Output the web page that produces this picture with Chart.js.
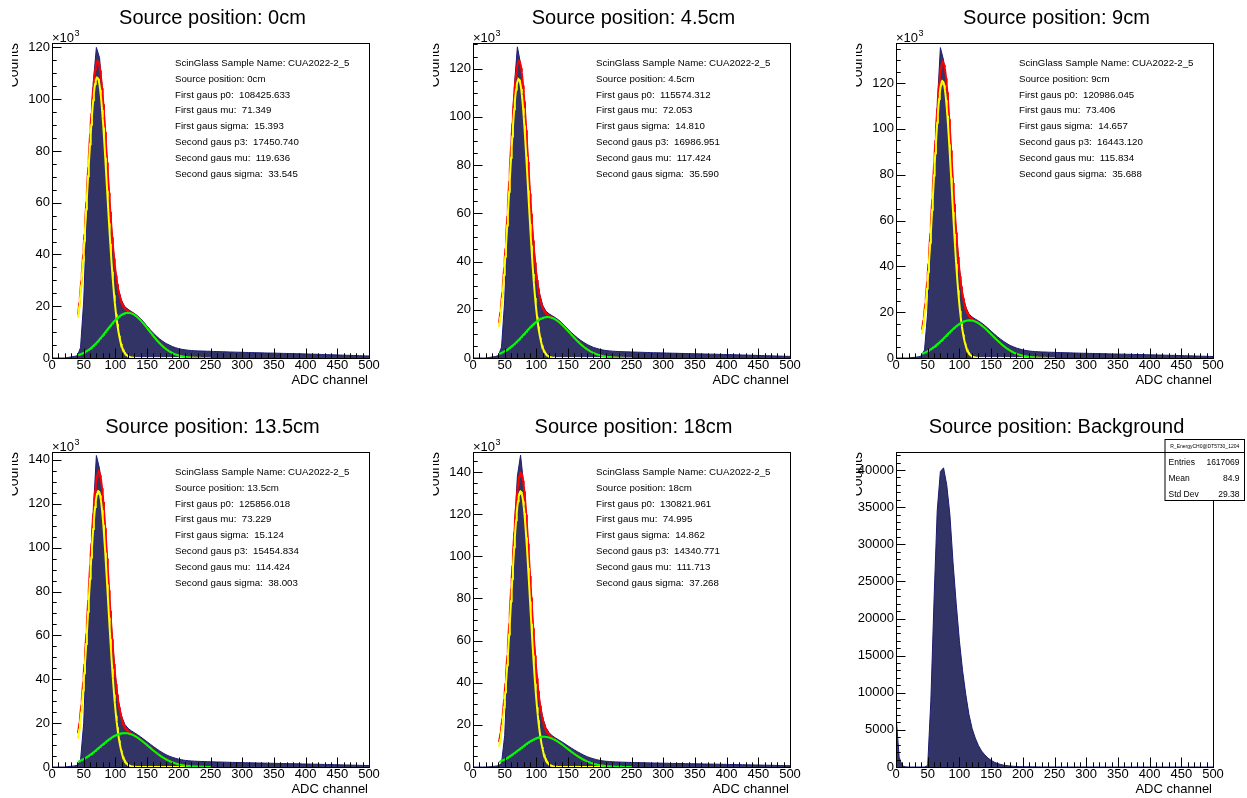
<!DOCTYPE html>
<html>
<head>
<meta charset="utf-8">
<script src="https://cdn.jsdelivr.net/npm/chart.js@4.4.1/dist/chart.umd.min.js"></script>
<style>
  html, body { margin: 0; padding: 0; background: #fff; overflow: hidden; }
  body { width: 1247px; height: 798px; position: relative; }
  canvas { position: absolute; }
</style>
</head>
<body>
<canvas id="pad0" width="391" height="390" style="left:12px;top:0px"></canvas>
<canvas id="pad1" width="391" height="390" style="left:433px;top:0px"></canvas>
<canvas id="pad2" width="391" height="390" style="left:856px;top:0px"></canvas>
<canvas id="pad3" width="391" height="390" style="left:12px;top:409px"></canvas>
<canvas id="pad4" width="391" height="390" style="left:433px;top:409px"></canvas>
<canvas id="pad5" width="391" height="390" style="left:856px;top:409px"></canvas>
<script>
// ADC channel of each histogram point (5 channel bins, 0..500)
const binStep = 5;
const channels = Array.from({ length: 101 }, (_, i) => i * binStep);

const sampleName = 'CUA2022-2_5';
const positions = ['0cm', '4.5cm', '9cm', '13.5cm', '18cm'];

// counts per bin, in units of 10^3
const counts0cm = [
  0, 0, 0, 0, 0, 0.2, 0.4, 0.6, 0.9, 4,
  22, 55, 84, 106, 120, 116, 102, 84, 64, 47,
  34, 26.5, 22, 19.8, 18.8, 18, 17.2, 16.3, 15.2, 13.8,
  12.3, 10.9, 9.6, 8.4, 7.3, 6.4, 5.6, 5, 4.4, 4,
  3.6, 3.35, 3.15, 3, 2.9, 2.8, 2.75, 2.7, 2.66, 2.62,
  2.58, 2.52, 2.49, 2.44, 2.41, 2.37, 2.33, 2.3, 2.26, 2.22,
  2.2, 2.15, 2.13, 2.09, 2.06, 2.02, 2, 1.97, 1.93, 1.91,
  1.88, 1.85, 1.82, 1.78, 1.76, 1.72, 1.69, 1.66, 1.63, 1.6,
  1.57, 1.53, 1.49, 1.46, 1.41, 1.38, 1.33, 1.3, 1.25, 1.22,
  1.18, 1.13, 1.1, 1.05, 1.01, 0.97, 0.93, 0.89, 0.85, 0.82,
  0.78
];
const counts4p5cm = [
  0, 0, 0, 0, 0, 0.2, 0.4, 0.6, 1, 4.5,
  24, 58, 88, 112, 129, 122, 110, 90, 68, 49.5,
  35.5, 26.8, 21.8, 19.4, 18.3, 17.5, 16.7, 15.8, 14.6, 13.3,
  11.9, 10.6, 9.4, 8.3, 7.3, 6.4, 5.6, 5, 4.4, 4,
  3.6, 3.3, 3.1, 2.95, 2.84, 2.75, 2.68, 2.63, 2.58, 2.54,
  2.5, 2.45, 2.41, 2.37, 2.33, 2.28, 2.25, 2.2, 2.17, 2.13,
  2.1, 2.06, 2.03, 1.99, 1.96, 1.92, 1.89, 1.86, 1.83, 1.8,
  1.76, 1.73, 1.7, 1.67, 1.63, 1.6, 1.57, 1.54, 1.5, 1.47,
  1.44, 1.4, 1.37, 1.33, 1.29, 1.26, 1.22, 1.18, 1.14, 1.1,
  1.06, 1.02, 0.98, 0.94, 0.9, 0.86, 0.82, 0.78, 0.74, 0.7,
  0.66
];
const counts9cm = [
  0, 0, 0, 0, 0, 0.2, 0.3, 0.5, 0.9, 3.5,
  20, 54, 84, 110, 135.5, 130, 118, 99, 76, 55,
  39, 28.3, 22.3, 19.3, 17.9, 17, 16.2, 15.3, 14.2, 13,
  11.7, 10.5, 9.3, 8.2, 7.2, 6.3, 5.5, 4.9, 4.35, 3.95,
  3.55, 3.25, 3.05, 2.9, 2.8, 2.72, 2.65, 2.6, 2.55, 2.5,
  2.45, 2.4, 2.36, 2.32, 2.28, 2.24, 2.2, 2.16, 2.12, 2.08,
  2.05, 2.01, 1.98, 1.94, 1.91, 1.88, 1.85, 1.82, 1.78, 1.75,
  1.72, 1.69, 1.66, 1.63, 1.59, 1.56, 1.53, 1.5, 1.47, 1.44,
  1.4, 1.37, 1.34, 1.3, 1.27, 1.23, 1.2, 1.16, 1.12, 1.08,
  1.04, 1, 0.97, 0.93, 0.89, 0.85, 0.81, 0.77, 0.73, 0.69,
  0.65
];
const counts13p5cm = [
  0, 0, 0, 0, 0, 0.2, 0.3, 0.5, 0.8, 3,
  20, 58, 90, 116, 142, 136, 124, 104, 81, 59,
  41.5, 29.8, 23, 19.4, 17.6, 16.5, 15.6, 14.7, 13.7, 12.6,
  11.5, 10.4, 9.3, 8.3, 7.3, 6.4, 5.6, 4.95, 4.4, 3.95,
  3.55, 3.25, 3.02, 2.87, 2.75, 2.66, 2.59, 2.53, 2.48, 2.43,
  2.38, 2.34, 2.3, 2.26, 2.22, 2.18, 2.14, 2.1, 2.07, 2.03,
  2, 1.96, 1.93, 1.9, 1.86, 1.83, 1.8, 1.77, 1.74, 1.71,
  1.68, 1.65, 1.62, 1.59, 1.56, 1.53, 1.5, 1.47, 1.44, 1.41,
  1.38, 1.34, 1.31, 1.28, 1.24, 1.21, 1.17, 1.14, 1.1, 1.06,
  1.02, 0.99, 0.95, 0.91, 0.87, 0.83, 0.8, 0.76, 0.72, 0.68,
  0.64
];
const counts18cm = [
  0, 0, 0, 0, 0, 0.1, 0.2, 0.4, 0.6, 1.8,
  15, 50, 82, 112, 138, 148, 134, 115, 90, 66,
  46, 31.8, 23.3, 18.8, 16.3, 14.8, 13.8, 12.9, 12, 11,
  10, 9, 8.1, 7.2, 6.4, 5.6, 4.9, 4.35, 3.9, 3.5,
  3.15, 2.9, 2.72, 2.6, 2.5, 2.42, 2.36, 2.3, 2.25, 2.2,
  2.16, 2.12, 2.08, 2.04, 2.01, 1.97, 1.94, 1.9, 1.87, 1.84,
  1.81, 1.78, 1.75, 1.72, 1.69, 1.66, 1.63, 1.6, 1.57, 1.55,
  1.52, 1.49, 1.47, 1.44, 1.41, 1.38, 1.36, 1.33, 1.3, 1.27,
  1.24, 1.21, 1.18, 1.15, 1.12, 1.09, 1.06, 1.03, 1, 0.97,
  0.93, 0.9, 0.87, 0.84, 0.8, 0.77, 0.74, 0.7, 0.67, 0.64,
  0.6
];
// background run, plain counts
const countsBackground = [
  7000, 1300, 150, 20, 0, 0, 0, 0, 0, 0,
  200, 9000, 22500, 34500, 39800, 40300, 38000, 34000, 27500, 22000,
  17000, 13000, 9800, 7100, 5200, 3900, 2900, 2150, 1650, 1200,
  900, 650, 480, 350, 250, 180, 130, 95, 70, 50,
  38, 30, 24, 20, 17, 15, 13, 12, 11, 10,
  9, 9, 8, 8, 7, 7, 7, 6, 6, 6,
  5, 5, 5, 5, 4, 4, 4, 4, 4, 3,
  3, 3, 3, 3, 3, 2, 2, 2, 2, 2,
  2, 2, 2, 2, 1, 1, 1, 1, 1, 1,
  1, 1, 1, 1, 1, 1, 1, 0, 0, 0,
  0
];

// double gaussian fit results
const fitP0 = [108425.633, 115574.312, 120986.045, 125856.018, 130821.961];
const fitMu1 = [71.349, 72.053, 73.406, 73.229, 74.995];
const fitSigma1 = [15.393, 14.810, 14.657, 15.124, 14.862];
const fitP3 = [17450.740, 16986.951, 16443.120, 15454.834, 14340.771];
const fitMu2 = [119.636, 117.424, 115.834, 114.424, 111.713];
const fitSigma2 = [33.545, 35.590, 35.688, 38.003, 37.268];
const fitLo = 41, fitHi = 250;

const yMaxK = [121.7, 130.6, 137.5, 143.6, 149.5];
const yMaxBackground = 42430;

const bgStats = { name: 'R_EnergyCH0@DT5730_1204', entries: 1617069, mean: 84.9, stdDev: 29.38 };

const FONT = '"Liberation Sans", Arial, Helvetica, sans-serif';

// ROOT style frame: inward ticks, boxed frame, titles and text boxes
const rootPad = {
  id: 'rootPad',
  afterDraw(chart, args, o) {
    const { ctx, chartArea: a, scales: { x, y } } = chart;
    ctx.save();
    ctx.strokeStyle = '#000';
    ctx.lineWidth = 1;
    ctx.beginPath();
    for (let v = 0; v <= 500; v += 10) {
      const px = Math.round(x.getPixelForValue(v)) + 0.5;
      const len = v % 50 === 0 ? 9.5 : 4.7;
      ctx.moveTo(px, a.bottom);
      ctx.lineTo(px, a.bottom - len);
    }
    for (let v = 0; v <= y.max; v += o.yMinor) {
      const py = Math.round(y.getPixelForValue(v)) + 0.5;
      const len = v % o.yMajor === 0 ? 9.5 : 4.7;
      ctx.moveTo(a.left, py);
      ctx.lineTo(a.left + len, py);
    }
    ctx.stroke();
    ctx.strokeRect(a.left + 0.5, a.top + 0.5, a.width, a.height);

    ctx.fillStyle = '#000';
    ctx.textBaseline = 'alphabetic';
    ctx.font = '20px ' + FONT;
    ctx.textAlign = 'center';
    ctx.fillText(o.title, (a.left + a.right) / 2 + 2, a.top - 19.5);

    ctx.font = '13px ' + FONT;
    ctx.textAlign = 'right';
    ctx.fillText('ADC channel', a.right - 1, a.bottom + 26);

    ctx.save();
    ctx.translate(6, a.top);
    ctx.rotate(-Math.PI / 2);
    ctx.font = '14px ' + FONT;
    ctx.textAlign = 'right';
    ctx.fillText('Counts', 0, 0);
    ctx.restore();

    if (o.multiplier) {
      ctx.textAlign = 'left';
      ctx.font = '13px ' + FONT;
      ctx.fillText('\u00d710', a.left, a.top - 1.5);
      const w = ctx.measureText('\u00d710').width;
      ctx.font = '9px ' + FONT;
      ctx.fillText('3', a.left + w + 0.5, a.top - 7.5);
    }

    if (o.notes) {
      ctx.textAlign = 'left';
      ctx.font = '9.7px ' + FONT;
      o.notes.forEach((t, i) => ctx.fillText(t, a.left + 123, a.top + 23 + i * 15.8));
    }

    if (o.stats) {
      const s = o.stats;
      const L = a.right - 48, R = a.right + 31.5, T = a.top - 12.5, B = a.top + 48.5;
      ctx.fillStyle = '#fff';
      ctx.fillRect(L, T, R - L, B - T);
      ctx.strokeRect(L, T, R - L, B - T);
      ctx.beginPath();
      ctx.moveTo(L, a.top + 0.5);
      ctx.lineTo(R, a.top + 0.5);
      ctx.stroke();
      ctx.fillStyle = '#000';
      ctx.font = '5px ' + FONT;
      ctx.textAlign = 'center';
      ctx.fillText(s.name, (L + R) / 2, T + 8.5);
      ctx.font = '8.5px ' + FONT;
      const rows = [['Entries', String(s.entries)], ['Mean', String(s.mean)], ['Std Dev', s.stdDev.toFixed(2)]];
      rows.forEach((r, i) => {
        const by = a.top + 12.7 + i * 16.3;
        ctx.textAlign = 'left';
        ctx.fillText(r[0], L + 3.5, by);
        ctx.textAlign = 'right';
        ctx.fillText(r[1], R - 5, by);
      });
    }
    ctx.restore();
  }
};

function gaus(amp, mu, sigma, c) {
  return amp * Math.exp(-0.5 * ((c - mu) / sigma) ** 2);
}

function fitPoints(fn) {
  const pts = [];
  for (let c = fitLo; c <= fitHi; c++) pts.push({ x: c, y: fn(c) });
  return pts;
}

function histDataset(values) {
  return {
    data: channels.map((c, i) => ({ x: c, y: values[i] })),
    fill: 'origin',
    backgroundColor: '#323466',
    borderColor: '#1b1b72',
    borderWidth: 1,
    pointRadius: 0,
    order: 4
  };
}

function lineDataset(points, color, width, order) {
  return { data: points, fill: false, borderColor: color, borderWidth: width, pointRadius: 0, order: order };
}

function makePad(canvasId, datasets, yMax, yStep, yMinor, padOpts) {
  return new Chart(document.getElementById(canvasId), {
    type: 'line',
    data: { datasets: datasets },
    options: {
      responsive: false,
      animation: false,
      devicePixelRatio: 1,
      layout: { padding: { top: 43, right: 34, left: 0, bottom: 0 } },
      elements: { line: { tension: 0 } },
      plugins: {
        legend: { display: false },
        tooltip: { enabled: false },
        rootPad: Object.assign({ yMajor: yStep, yMinor: yMinor }, padOpts)
      },
      scales: {
        x: {
          type: 'linear', min: 0, max: 500,
          afterFit: s => { s.height = 32; },
          grid: { display: false, drawTicks: false },
          border: { display: false },
          ticks: { stepSize: 50, autoSkip: false, maxRotation: 0, padding: 0, color: '#000', font: { family: FONT, size: 13 } }
        },
        y: {
          type: 'linear', min: 0, max: yMax,
          afterFit: s => { s.width = 40; },
          // labelled ticks at every yStep from zero up to the top of the frame
          afterBuildTicks: s => {
            const ticks = [];
            for (let v = 0; v <= s.max; v += yStep) ticks.push({ value: v });
            s.ticks = ticks;
          },
          grid: { display: false, drawTicks: false },
          border: { display: false },
          ticks: { autoSkip: false, padding: 2, color: '#000', font: { family: FONT, size: 13 },
                   callback: v => String(v) }
        }
      }
    },
    plugins: [rootPad]
  });
}

const histograms = [counts0cm, counts4p5cm, counts9cm, counts13p5cm, counts18cm];

histograms.forEach((values, i) => {
  const g1 = c => gaus(fitP0[i], fitMu1[i], fitSigma1[i], c) / 1000;
  const g2 = c => gaus(fitP3[i], fitMu2[i], fitSigma2[i], c) / 1000;
  const datasets = [
    histDataset(values),
    lineDataset(fitPoints(c => g1(c) + g2(c)), '#ff0000', 2, 3),
    lineDataset(fitPoints(g1), '#ffff00', 2, 2),
    lineDataset(fitPoints(g2), '#00ff00', 2, 1)
  ];
  const notes = [
    'ScinGlass Sample Name: ' + sampleName,
    'Source position: ' + positions[i],
    'First gaus p0:  ' + fitP0[i].toFixed(3),
    'First gaus mu:  ' + fitMu1[i].toFixed(3),
    'First gaus sigma:  ' + fitSigma1[i].toFixed(3),
    'Second gaus p3:  ' + fitP3[i].toFixed(3),
    'Second gaus mu:  ' + fitMu2[i].toFixed(3),
    'Second gaus sigma:  ' + fitSigma2[i].toFixed(3)
  ];
  makePad('pad' + i, datasets, yMaxK[i], 20, 5, {
    title: 'Source position: ' + positions[i],
    multiplier: true,
    notes: notes
  });
});

makePad('pad5', [histDataset(countsBackground)], yMaxBackground, 5000, 1000, {
  title: 'Source position: Background',
  multiplier: false,
  stats: bgStats
});
</script>
</body>
</html>
